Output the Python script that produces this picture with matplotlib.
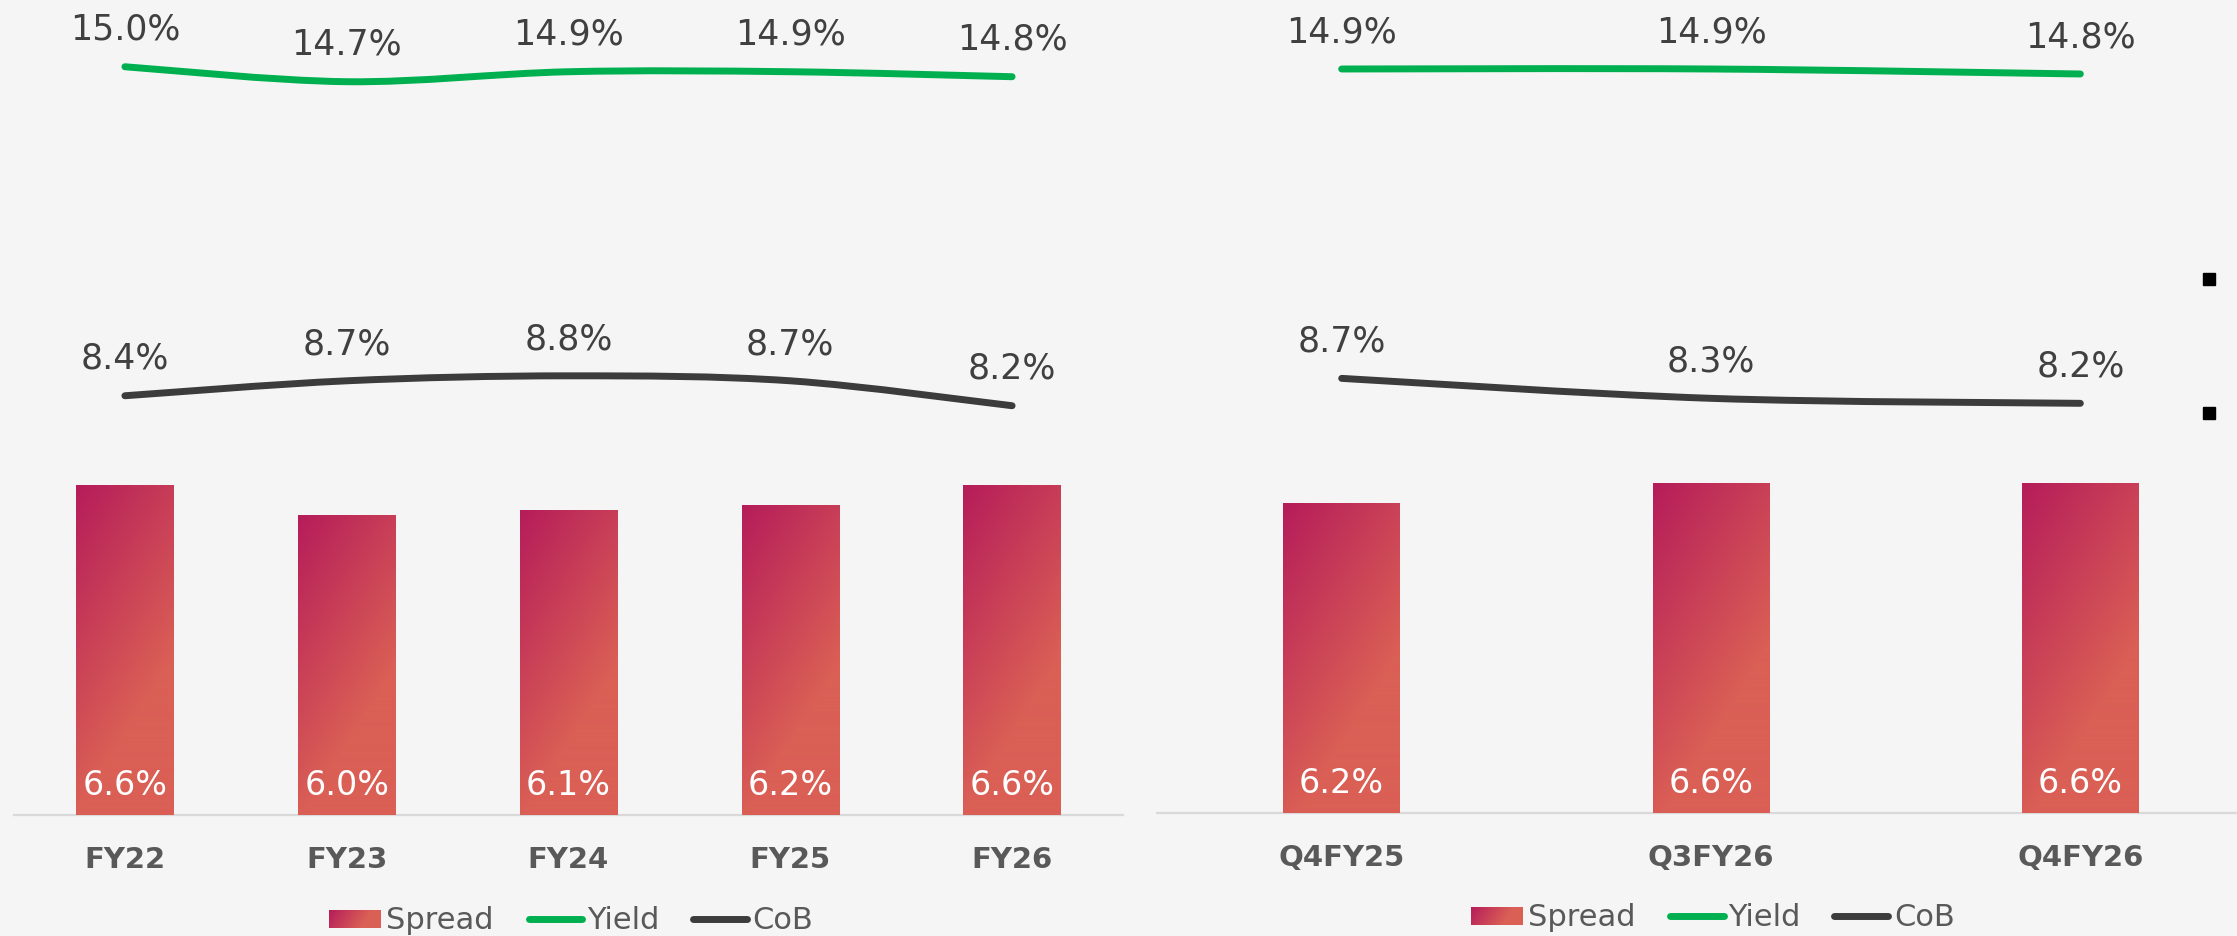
import numpy as np
import matplotlib
matplotlib.use("Agg")
import matplotlib.pyplot as plt
from matplotlib.path import Path
from matplotlib.patches import PathPatch, Rectangle
from matplotlib.lines import Line2D
from matplotlib.colors import to_rgb

# ---------------- data ----------------
annual_labels = ["FY22", "FY23", "FY24", "FY25", "FY26"]
annual_spread = [6.6, 6.0, 6.1, 6.2, 6.6]
annual_yield = [15.0, 14.7, 14.9, 14.9, 14.8]
annual_cob = [8.4, 8.7, 8.8, 8.7, 8.2]

quarter_labels = ["Q4FY25", "Q3FY26", "Q4FY26"]
quarter_spread = [6.2, 6.6, 6.6]
quarter_yield = [14.9, 14.9, 14.8]
quarter_cob = [8.7, 8.3, 8.2]

legend_names = ["Spread", "Yield", "CoB"]

# ---------------- style ----------------
plt.rcParams['font.family'] = ['DejaVu Sans']
W, H, DPI = 2237, 937, 100
BG = "#F5F5F5"
GREEN = "#00B050"
DARK = "#3C3C3C"
VAL_COL = "#404040"
CAT_COL = "#595959"
AXIS_COL = "#D9D9D9"
C0 = np.array(to_rgb("#B51C5A"))
C1 = np.array(to_rgb("#DA5F55"))

fig = plt.figure(figsize=(W / DPI, H / DPI), dpi=DPI, facecolor=BG)


def gradient_rgb(wpx, hpx):
    nx = max(int(round(wpx)), 2)
    ny = max(int(round(hpx)), 2)
    x = (np.arange(nx)[None, :] + 0.5)
    y = (np.arange(ny)[:, None] + 0.5)
    t = (1.6 * x + y) / (1.6 * wpx + hpx)
    s = np.clip(t / 0.67, 0, 1)
    s = s[..., None]
    return C0 + (C1 - C0) * s


def smooth_path(xs, ys):
    pts = np.column_stack([xs, ys]).astype(float)
    n = len(pts)
    verts = [pts[0]]
    codes = [Path.MOVETO]
    for i in range(n - 1):
        p0 = pts[max(i - 1, 0)]
        p1 = pts[i]
        p2 = pts[i + 1]
        p3 = pts[min(i + 2, n - 1)]
        verts += [p1 + (p2 - p0) / 6.0, p2 - (p3 - p1) / 6.0, p2]
        codes += [Path.CURVE4] * 3
    return Path(verts, codes)


def make_panel(x0, x1, y_zero, scale, ymax, labels, spread, yld, cob, bar_w):
    ax = fig.add_axes([x0 / W, (H - y_zero) / H, (x1 - x0) / W, ymax * scale / H])
    ax.set_facecolor(BG)
    n = len(labels)
    xs = np.arange(n)
    ax.set_xlim(-0.5, n - 0.5)
    ax.set_ylim(0, ymax)
    for s in ["top", "right", "left"]:
        ax.spines[s].set_visible(False)
    ax.spines["bottom"].set_color(AXIS_COL)
    ax.spines["bottom"].set_linewidth(1.6)
    ax.spines["bottom"].set_zorder(1)
    ax.set_yticks([])
    ax.set_xticks(xs, labels)
    ax.tick_params(axis="x", length=0, pad=37.5, labelsize=21, labelcolor=CAT_COL)
    for lbl in ax.get_xticklabels():
        lbl.set_fontweight("bold")
        lbl.set_va("baseline")

    # bars with gradient
    bars = ax.bar(xs, spread, width=bar_w, color="none", edgecolor="none", zorder=2)
    px_per_x = (x1 - x0) / n
    for b in bars:
        bx, bw, bh = b.get_x(), b.get_width(), b.get_height()
        img = gradient_rgb(bw * px_per_x, bh * scale)
        ax.imshow(img, extent=(bx, bx + bw, 0, bh), origin="upper",
                  aspect="auto", interpolation="bilinear", zorder=2)
    ax.set_xlim(-0.5, n - 0.5)
    ax.set_ylim(0, ymax)

    for xi, v in zip(xs, spread):
        ax.annotate(f"{v:.1f}%", (xi, 0), xytext=(0, 14.5), textcoords="offset points",
                    ha="center", va="baseline", color="white", fontsize=24, zorder=5)

    # smooth lines
    for vals, col in ((yld, GREEN), (cob, DARK)):
        ax.add_patch(PathPatch(smooth_path(xs, vals), facecolor="none", edgecolor=col,
                               lw=5, capstyle="round", joinstyle="round", zorder=4))
        for xi, v in zip(xs, vals):
            ax.annotate(f"{v:.1f}%", (xi, v), xytext=(0, 20), textcoords="offset points",
                        ha="center", va="baseline", color=VAL_COL, fontsize=25, zorder=5)
    return ax


make_panel(14, 1123, 815.5, 49.85, 16.3, annual_labels, annual_spread,
           annual_yield, annual_cob, 0.44)
make_panel(1157, 2265, 813.5, 49.9, 16.3, quarter_labels, quarter_spread,
           quarter_yield, quarter_cob, 0.316)


# ---------------- legends ----------------
def legend_at(patch_x0, patch_x1, patch_y0, patch_y1, text_xs, line_spans, baseline):
    lax = fig.add_axes([patch_x0 / W, 1 - patch_y1 / H, (patch_x1 - patch_x0) / W,
                        (patch_y1 - patch_y0) / H])
    lax.imshow(gradient_rgb(patch_x1 - patch_x0, patch_y1 - patch_y0), aspect="auto",
               interpolation="bilinear")
    lax.axis("off")
    ymid = (patch_y0 + patch_y1) / 2
    for (lx0, lx1), col in zip(line_spans, (GREEN, DARK)):
        fig.add_artist(Line2D([lx0 / W, lx1 / W], [1 - ymid / H, 1 - ymid / H],
                              transform=fig.transFigure, color=col, lw=5,
                              solid_capstyle="round"))
    for tx, name in zip(text_xs, legend_names):
        fig.text(tx / W, 1 - baseline / H, name, ha="left", va="baseline",
                 fontsize=22, color=CAT_COL)


legend_at(329, 381, 911, 929, [386, 587, 752], [(529, 582), (693, 747)], 929)
legend_at(1471, 1523, 908, 926, [1528, 1728, 1894], [(1670, 1724), (1834, 1888)], 926)

# bullet squares at the right edge (slide decoration)
for yc in (280, 414):
    fig.add_artist(Rectangle((2203 / W, 1 - (yc + 6) / H), 12 / W, 12 / H,
                             transform=fig.transFigure, color="black"))

fig.savefig("out.png", dpi=DPI, facecolor=BG)
